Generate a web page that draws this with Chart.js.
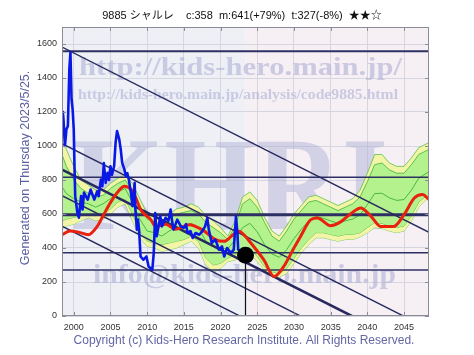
<!DOCTYPE html>
<html>
<head>
<meta charset="utf-8">
<script src="https://cdn.jsdelivr.net/npm/chart.js@4/dist/chart.umd.min.js"></script>
<style>
  html, body { margin: 0; padding: 0; background: #fff; }
  #chart { display: block; }
</style>
</head>
<body>
<canvas id="chart" width="474" height="355"></canvas>
<script>
'use strict'

// x range of the plot (years)
const xMin = 1998.4;
const xMax = 2048.4;
const yMax = 1700;
const xTickValues = [2000, 2005, 2010, 2015, 2020, 2025, 2030, 2035, 2040, 2045];
const yTickValues = [0, 200, 400, 600, 800, 1000, 1200, 1400, 1600];

// actual price (blue)
const priceYears = [1998.5,1998.6,1998.8,1999.0,1999.2,1999.4,1999.55,1999.7,1999.85,2000.0,2000.1,2000.2,2000.5,2000.7,2001.0,2001.2,2001.4,2001.9,2002.3,2002.8,2003.2,2003.4,2003.7,2003.9,2004.1,2004.35,2004.6,2004.8,2005.0,2005.2,2005.5,2005.7,2005.9,2006.2,2006.4,2006.6,2006.9,2007.1,2007.3,2007.5,2007.8,2008.0,2008.3,2008.4,2008.6,2008.75,2008.9,2009.1,2009.3,2009.5,2009.9,2010.2,2010.7,2010.9,2011.1,2011.3,2011.8,2012.0,2012.5,2012.9,2013.2,2013.4,2013.6,2014.1,2014.6,2015.0,2015.3,2015.5,2015.9,2016.2,2016.6,2017.1,2017.5,2017.9,2018.2,2018.4,2018.8,2019.3,2019.8,2020.2,2020.5,2020.9,2021.4,2021.8,2022.1,2022.3,2022.4,2022.8,2023.2,2023.4];
const priceValues = [1206,1157,1000,1098,1118,1452,1550,1275,1216,1098,882,705,606,578,705,626,726,685,744,685,734,705,803,763,900,783,842,800,881,830,881,1019,1088,1039,980,901,862,822,840,803,724,646,783,626,508,567,508,350,340,331,350,291,271,370,606,469,586,527,577,560,626,557,508,567,527,518,540,488,500,459,488,478,498,527,577,508,429,449,390,409,350,400,370,390,586,488,390,380,370,358];

// current price marker
const currentYear = 2023.4;
const currentPrice = 358;

// smooth trend (red)
const trendYears = [1998.4,1999.5,2000.5,2002,2003.2,2004,2005,2006,2006.9,2007.8,2008.5,2009.1,2010.5,2011.2,2012.5,2013.9,2015.7,2017.5,2019.3,2020.5,2021.5,2022.5,2023.4,2024.1,2025.9,2027.3,2028.6,2030,2030.9,2032.3,2033.2,2035,2036.4,2037.7,2039.1,2040.5,2041.8,2043.6,2045,2046.4,2047.5,2048.4];
const trendValues = [478,500,495,478,527,590,667,730,763,744,690,626,567,525,540,510,537,508,449,439,470,498,468,431,330,232,291,400,468,567,577,531,555,600,636,586,527,527,596,694,714,685];

// forecast band (green / yellow)
const bandYears = [1998.4,1999,2000,2001,2002,2003,2004,2005,2006,2007,2008,2009,2010,2011,2012,2013,2014,2015,2016,2017,2018,2019,2020,2021,2022,2023,2024,2025,2026,2027,2028,2029,2030,2031,2032,2033,2034,2035,2036,2037,2038,2039,2040,2041,2042,2043,2044,2045,2046,2047,2048.4];
const bandOuterHi = [1100,980,880,800,770,740,740,780,810,830,780,690,600,580,560,600,630,640,660,640,590,560,520,470,560,700,730,680,580,500,470,530,600,650,700,710,690,670,650,670,690,740,840,950,950,900,880,880,930,990,1020];
const bandOuterLo = [510,530,540,560,580,560,570,600,640,660,560,460,410,400,380,390,400,420,440,400,300,260,280,320,330,350,370,320,270,240,230,250,310,370,420,460,460,450,440,450,450,465,490,520,515,500,490,500,560,640,700];
const bandInnerHi = [950,880,800,750,720,700,710,750,780,800,740,650,570,550,530,570,600,610,620,600,550,520,490,450,530,660,690,640,550,470,440,500,570,620,670,680,660,640,620,640,660,700,790,890,900,860,840,840,890,950,980];
const bandInnerLo = [560,570,580,590,600,590,600,630,670,690,600,500,440,430,420,430,440,450,470,440,340,300,310,340,360,380,400,350,290,260,250,280,340,400,450,490,490,480,470,480,480,490,520,550,545,530,520,530,590,670,720];
const bandMid = [760,720,690,670,660,640,660,690,730,750,670,570,500,490,470,500,520,530,545,520,440,410,400,395,450,520,545,495,420,365,345,390,455,510,560,585,575,560,545,560,570,595,655,720,722,695,680,685,740,810,850];

// horizontal support / resistance levels
const levelValues = [1557, 816, 596, 372, 271];
// descending channel lines: value at xMin and at xMax
const channelStart = [1582, 1014, 861, 708, 528];
const channelEnd = [492, -76, -229, -382, -562];

const titleText = '9885 シャルレ    c:358  m:641(+79%)  t:327(-8%)  ★★☆';
const sideText = 'Generated on Thursday 2023/5/25.';
const footText = 'Copyright (c) Kids-Hero Research Institute. All Rights Reserved.';

function pts(xs, ys){
  return xs.map(function(x, i){ return {x: x, y: ys[i]}; });
}

const datasets = [];

// marker first so it is on top
datasets.push({data: [{x: currentYear, y: currentPrice}], showLine: false, pointRadius: 8.5,
  pointBackgroundColor: '#000', pointBorderColor: '#000', pointBorderWidth: 0});
datasets.push({data: [{x: currentYear, y: currentPrice}, {x: currentYear, y: 0}],
  borderColor: '#111', borderWidth: 1.2, pointRadius: 0});

datasets.push({data: pts(priceYears, priceValues), borderColor: '#0a18e6', borderWidth: 2.6,
  pointRadius: 0, tension: 0, borderJoinStyle: 'round'});

datasets.push({data: pts(trendYears, trendValues), borderColor: '#e8220e', borderWidth: 3,
  pointRadius: 0, tension: 0.4, cubicInterpolationMode: 'monotone'});

channelStart.forEach(function(v, i){
  datasets.push({data: [{x: xMin, y: v}, {x: xMax, y: channelEnd[i]}],
    borderColor: '#26285e', borderWidth: i === 2 ? 2.6 : 1.4, pointRadius: 0});
});

levelValues.forEach(function(v, i){
  datasets.push({data: [{x: xMin, y: v}, {x: xMax, y: v}],
    borderColor: '#2e3064', borderWidth: i === 2 ? 3 : (i === 0 ? 2 : 1.4), pointRadius: 0});
});

datasets.push({data: pts(bandYears, bandMid), borderColor: '#2fa82f', borderWidth: 0.8, pointRadius: 0});
datasets.push({data: pts(bandYears, bandInnerHi), borderColor: '#3cb43c', borderWidth: 0.8,
  pointRadius: 0, fill: '+1', backgroundColor: '#b4f28e'});
datasets.push({data: pts(bandYears, bandInnerLo), borderColor: '#3cb43c', borderWidth: 0.8, pointRadius: 0});
datasets.push({data: pts(bandYears, bandOuterHi), borderColor: '#5cc04a', borderWidth: 0.8,
  pointRadius: 0, fill: '+1', backgroundColor: '#f2f4a6'});
datasets.push({data: pts(bandYears, bandOuterLo), borderColor: '#5cc04a', borderWidth: 0.8, pointRadius: 0});

function fitText(ctx, text, font, x1, x2, baseline){
  ctx.font = font;
  const w = ctx.measureText(text).width;
  ctx.save();
  ctx.translate(x1, baseline);
  ctx.scale((x2 - x1) / w, 1);
  ctx.fillText(text, 0, 0);
  ctx.restore();
}

const decor = {
  id: 'decor',
  beforeDraw: function(chart){
    const ctx = chart.ctx;
    const a = chart.chartArea;
    const xs = chart.scales.x;
    const split = xs.getPixelForValue(currentYear);
    ctx.save();
    ctx.fillStyle = '#fff';
    ctx.fillRect(0, 0, chart.width, chart.height);
    ctx.fillStyle = '#eef0f6';
    ctx.fillRect(a.left, a.top, split - a.left, a.bottom - a.top);
    ctx.fillStyle = '#f6f0f4';
    ctx.fillRect(split, a.top, a.right - split, a.bottom - a.top);
    ctx.restore();
  },
  beforeDatasetsDraw: function(chart){
    const ctx = chart.ctx;
    ctx.save();
    ctx.fillStyle = 'rgba(176,178,214,0.62)';
    ctx.textBaseline = 'alphabetic';
    fitText(ctx, 'http://kids-hero.main.jp/', 'bold 26px "Liberation Serif"', 79, 402, 75);
    fitText(ctx, 'http://kids-hero.main.jp/analysis/code9885.html', 'bold 14px "Liberation Serif"', 78, 398, 99);
    fitText(ctx, 'info@kids-hero.main.jp', 'bold 27px "Liberation Serif"', 93, 396, 283);
    ctx.fillStyle = 'rgba(176,178,214,0.5)';
    ctx.save();
    ctx.font = 'bold 100px "Liberation Serif"';
    const w = ctx.measureText('KHRI').width;
    ctx.translate(72, 229);
    ctx.scale(316 / w, 1.33);
    ctx.fillText('KHRI', 0, 0);
    ctx.restore();
    ctx.restore();
  },
  afterDatasetsDraw: function(chart){
    const ctx = chart.ctx;
    const a = chart.chartArea;
    const xs = chart.scales.x, ys = chart.scales.y;
    ctx.save();
    ctx.strokeStyle = '#8c8c96';
    ctx.lineWidth = 1;
    ctx.strokeRect(a.left + 0.5, a.top + 0.5, a.right - a.left - 1, a.bottom - a.top - 1);
    ctx.beginPath();
    xs.ticks.forEach(function(t){
      const px = Math.round(xs.getPixelForValue(t.value)) + 0.5;
      ctx.moveTo(px, a.top); ctx.lineTo(px, a.top + 4);
      ctx.moveTo(px, a.bottom); ctx.lineTo(px, a.bottom - 4);
    });
    ys.ticks.forEach(function(t){
      const py = Math.round(ys.getPixelForValue(t.value)) + 0.5;
      ctx.moveTo(a.left, py); ctx.lineTo(a.left + 4, py);
      ctx.moveTo(a.right, py); ctx.lineTo(a.right - 4, py);
    });
    ctx.stroke();
    ctx.restore();
  },
  afterDraw: function(chart){
    const ctx = chart.ctx;
    ctx.save();
    ctx.fillStyle = '#111';
    ctx.font = '11px "Liberation Sans", "Noto Sans CJK JP"';
    ctx.textAlign = 'center';
    ctx.textBaseline = 'middle';
    ctx.fillText(titleText, 242, 16);
    ctx.fillStyle = '#6466a4';
    ctx.font = '12px "Liberation Sans"';
    ctx.fillText(footText, 244, 341);
    ctx.translate(26, 168);
    ctx.rotate(-Math.PI / 2);
    ctx.fillStyle = '#5c5fa2';
    ctx.font = '12.5px "Liberation Sans"';
    ctx.fillText(sideText, 0, 0);
    ctx.restore();
  }
};

const ctx = document.getElementById('chart').getContext('2d');
const chart = new Chart(ctx, {
  type: 'line',
  data: {datasets: datasets},
  options: {
    responsive: false,
    animation: false,
    devicePixelRatio: 1,
    layout: {padding: {left: 0, top: 27, right: 45, bottom: 0}},
    plugins: {legend: {display: false}, tooltip: {enabled: false}, title: {display: false}},
    elements: {line: {borderCapStyle: 'butt'}},
    scales: {
      x: {
        type: 'linear', min: xMin, max: xMax,
        grid: {color: '#d6d6e0', drawTicks: false},
        border: {display: false},
        afterBuildTicks: function(s){ s.ticks = xTickValues.map(function(v){ return {value: v}; }); },
        ticks: {autoSkip: false, maxRotation: 0, padding: 6,
          color: '#333', font: {size: 9, family: '"Liberation Sans"'},
          callback: function(v){ return String(v); }},
        afterFit: function(s){ s.height = 39; }
      },
      y: {
        min: 0, max: yMax,
        grid: {color: '#d6d6e0', drawTicks: false},
        border: {display: false},
        afterBuildTicks: function(s){ s.ticks = yTickValues.map(function(v){ return {value: v}; }); },
        ticks: {padding: 5,
          color: '#333', font: {size: 9, family: '"Liberation Sans"'},
          callback: function(v){ return String(v); }},
        afterFit: function(s){ s.width = 62; }
      }
    }
  },
  plugins: [decor]
});
</script>
</body>
</html>
